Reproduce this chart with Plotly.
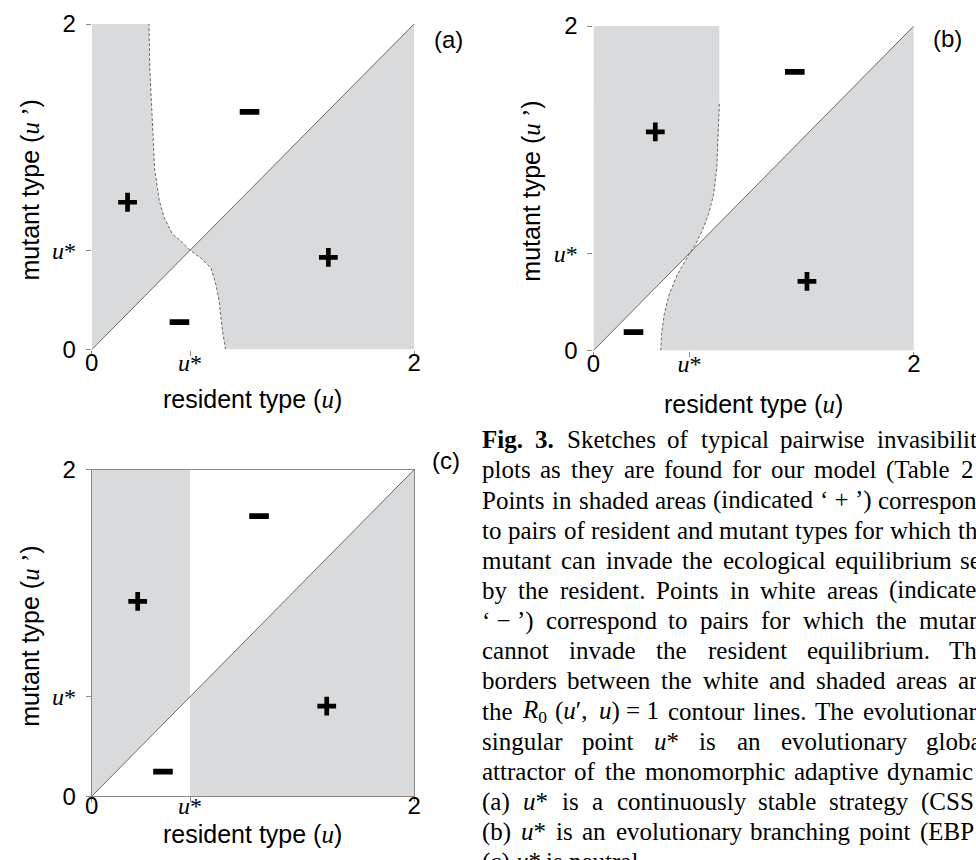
import re
import plotly.graph_objects as go

# ---------------- data (u = resident type, v = mutant type u') ----------------
U_STAR_A = 0.61
U_STAR_B = 0.60
U_STAR_C = 0.61

# panel (a): R0 = 1 contour, branch above the singular point (bottom -> top)
a_upper_u = [0.61, 0.56, 0.50, 0.45, 0.42, 0.39, 0.38, 0.36, 0.355]
a_upper_v = [0.61, 0.66, 0.71, 0.81, 0.91, 1.11, 1.32, 1.73, 2.00]
# panel (a): branch below the singular point (bottom -> top)
a_lower_u = [0.83, 0.81, 0.79, 0.77, 0.74, 0.68, 0.61]
a_lower_v = [0.00, 0.12, 0.30, 0.40, 0.50, 0.56, 0.61]

# panel (b): R0 = 1 contour through the singular point (bottom -> top)
b_curve_u = [0.42, 0.425, 0.441, 0.472, 0.523, 0.60, 0.636, 0.677, 0.718, 0.75, 0.77, 0.78, 0.786, 0.786]
b_curve_v = [0.00, 0.10, 0.22, 0.344, 0.467, 0.60, 0.65, 0.735, 0.84, 0.96, 1.125, 1.33, 1.52, 2.00]
b_line_top = 1.52  # dashed contour drawn up to here

# sign labels
a_plus_u, a_plus_v = [0.222, 1.468], [0.905, 0.566]
a_minus_u, a_minus_v = [0.979, 0.544], [1.46, 0.168]
b_plus_u, b_plus_v = [0.386, 1.333], [1.348, 0.426]
b_minus_u, b_minus_v = [1.257, 0.25], [1.718, 0.113]
c_plus_u, c_plus_v = [0.285, 1.458], [1.194, 0.552]
c_minus_u, c_minus_v = [1.038, 0.442], [1.716, 0.151]

AX_MIN, AX_MAX = 0, 2
panel_labels = ["(a)", "(b)", "(c)"]
x_title = "resident type (<span style='font-family:Liberation Serif'><i>u</i></span>)"
y_title = "mutant type (<span style='font-family:Liberation Serif'><i>u</i> \u2019</span>)"
USTAR_TXT = "<span style='font-family:Liberation Serif'><i>u</i>*</span>"

# caption: full words of each (justified) line, and the part of the last word that is visible
caption_words = [
    ["<b>Fig.</b>", "<b>3.</b>", "Sketches", "of", "typical", "pairwise", "invasibility"],
    ["plots", "as", "they", "are", "found", "for", "our", "model", "(Table", "2)."],
    ["Points", "in", "shaded", "areas", "(indicated", "\u2018 + \u2019)", "correspond"],
    ["to", "pairs", "of", "resident", "and", "mutant", "types", "for", "which", "the"],
    ["mutant", "can", "invade", "the", "ecological", "equilibrium", "set"],
    ["by", "the", "resident.", "Points", "in", "white", "areas", "(indicated"],
    ["\u2018 \u2212 \u2019)", "correspond", "to", "pairs", "for", "which", "the", "mutant"],
    ["cannot", "invade", "the", "resident", "equilibrium.", "The"],
    ["borders", "between", "the", "white", "and", "shaded", "areas", "are"],
    ["the", "<i>R</i><sub>0</sub>", "(<i>u</i>\u2032,", "<i>u</i>) = 1", "contour", "lines.", "The", "evolutionary"],
    ["singular", "point", "<i>u</i>*", "is", "an", "evolutionary", "global"],
    ["attractor", "of", "the", "monomorphic", "adaptive", "dynamics."],
    ["(a)", "<i>u</i>*", "is", "a", "continuously", "stable", "strategy", "(CSS)."],
    ["(b)", "<i>u</i>*", "is", "an", "evolutionary", "branching", "point", "(EBP)."],
    ["(c)", "<i>u</i>*", "is", "neutral."],
]
caption_visible_last = ["invasibilit", "2", "correspon", "th", "se", "(indicate", "mutan", "Th", "ar",
                        "evolutionar", "globa", "dynamic", "(CSS", "(EBP", "neutral."]
caption_justified = [True] * 14 + [False]

# ---------------- styles / geometry ----------------
SHADE = "#d9dadc"
LINE = "#5a5a5a"
W, H = 976, 860
# vertical placement correction (target-picture px -> figure px)
SY, OY = 0.967, 13.0
SANS = "Liberation Sans"
SERIF = "Liberation Serif"


def fx(x):
    return x / W


def fy(y):
    return 1 - (y - OY) / SY / H


def xdom(a, b):
    return [fx(a), fx(b)]


def ydom(top, bottom):
    return [fy(bottom), fy(top)]


fig = go.Figure()


def fill(xs, ys, k):
    fig.add_trace(go.Scatter(x=xs, y=ys, mode="none", fill="toself", fillcolor=SHADE,
                             xaxis=f"x{k}", yaxis=f"y{k}", hoverinfo="skip"))


def line(xs, ys, k, dash="solid", width=0.9):
    fig.add_trace(go.Scatter(x=xs, y=ys, mode="lines", line=dict(color=LINE, width=width, dash=dash),
                             xaxis=f"x{k}", yaxis=f"y{k}", hoverinfo="skip"))


def signs(pu, pv, mu, mv, k):
    fig.add_trace(go.Scatter(x=pu, y=pv, mode="markers", xaxis=f"x{k}", yaxis=f"y{k}",
                             marker=dict(symbol="cross-thin", size=13.4,
                                         line=dict(width=4.7, color="black"))))
    fig.add_trace(go.Scatter(x=mu, y=mv, mode="markers", xaxis=f"x{k}", yaxis=f"y{k}",
                             marker=dict(symbol="line-ew", size=14,
                                         line=dict(width=5.7, color="black"))))


# ---- panel (a) ----
fill([AX_MIN] + a_upper_u + [AX_MIN], [AX_MIN] + a_upper_v + [AX_MAX], "")
fill(a_lower_u + [AX_MAX, AX_MAX], a_lower_v + [AX_MAX, AX_MIN], "")
line([AX_MIN, AX_MAX], [AX_MIN, AX_MAX], "")
line(a_upper_u, a_upper_v, "", dash="3px,2px")
line(a_lower_u, a_lower_v, "", dash="3px,2px")
signs(a_plus_u, a_plus_v, a_minus_u, a_minus_v, "")

# ---- panel (b) ----
b_up_u = [u for u, v in zip(b_curve_u, b_curve_v) if v >= U_STAR_B]
b_up_v = [v for v in b_curve_v if v >= U_STAR_B]
b_lo_u = [u for u, v in zip(b_curve_u, b_curve_v) if v <= U_STAR_B]
b_lo_v = [v for v in b_curve_v if v <= U_STAR_B]
fill([AX_MIN] + b_up_u + [AX_MIN], [AX_MIN] + b_up_v + [AX_MAX], "2")
fill(b_lo_u + [AX_MAX, AX_MAX], b_lo_v + [AX_MAX, AX_MIN], "2")
line([AX_MIN, AX_MAX], [AX_MIN, AX_MAX], "2")
bl_u = [u for u, v in zip(b_curve_u, b_curve_v) if v <= b_line_top]
bl_v = [v for v in b_curve_v if v <= b_line_top]
line(bl_u, bl_v, "2", dash="3px,2px")
signs(b_plus_u, b_plus_v, b_minus_u, b_minus_v, "2")

# ---- panel (c) ----
fill([AX_MIN, U_STAR_C, U_STAR_C, AX_MIN], [AX_MIN, U_STAR_C, AX_MAX, AX_MAX], "3")
fill([U_STAR_C, U_STAR_C, AX_MAX, AX_MAX], [AX_MIN, U_STAR_C, AX_MAX, AX_MIN], "3")
line([AX_MIN, AX_MAX], [AX_MIN, AX_MAX], "3")
signs(c_plus_u, c_plus_v, c_minus_u, c_minus_v, "3")


def axis(domain, anchor, ustar, frame=False):
    return dict(domain=domain, anchor=anchor, range=[AX_MIN, AX_MAX], tickmode="array",
                tickvals=[AX_MIN, ustar, AX_MAX], ticktext=["0", USTAR_TXT, "2"],
                ticks="outside", ticklen=5, tickwidth=1, tickcolor="#8a8a8a",
                showgrid=False, zeroline=False, showline=frame, mirror=frame,
                linecolor="#8a8a8a", linewidth=1,
                tickfont=dict(family=SANS, size=24, color="black"))


panels = [
    ("", xdom(86, 413), ydom(23, 348), U_STAR_A, False),
    ("2", xdom(595, 920), ydom(25, 349), U_STAR_B, False),
    ("3", xdom(86, 413), ydom(468, 794), U_STAR_C, True),
]
panel_px = [((86, 413), (23, 348)), ((595, 920), (25, 349)), ((86, 413), (468, 794))]
title_drop = [49, 53, 38]
x_standoff = [-13, -13, -17]
layout_axes = {}
annotations = []
for (k, xd, yd, us, frame), ((x0, x1), (y0, y1)), td, xs in zip(panels, panel_px, title_drop, x_standoff):
    xa = axis(xd, f"y{k}", us, frame)
    ya = axis(yd, f"x{k}", us, frame)
    xa["ticklabelstandoff"] = xs
    ya["ticklabelstandoff"] = 5
    layout_axes[f"xaxis{k}"] = xa
    layout_axes[f"yaxis{k}"] = ya
    annotations.append(dict(text=x_title, xref="paper", yref="paper", x=fx((x0 + x1) / 2), y=fy(y1 + td),
                            xanchor="center", yanchor="middle", showarrow=False,
                            font=dict(family=SANS, size=25, color="black")))
    annotations.append(dict(text=y_title, xref="paper", yref="paper", x=fx(x0 - 63), y=fy((y0 + y1) / 2 + 3),
                            xanchor="center", yanchor="middle", textangle=-90, showarrow=False,
                            font=dict(family=SANS, size=25, color="black")))

label_pos = [(448, 38), (954, 37), (445, 459)]
for txt, (lx, ly) in zip(panel_labels, label_pos):
    annotations.append(dict(text=txt, xref="paper", yref="paper", x=fx(lx), y=fy(ly),
                            xanchor="center", yanchor="middle", showarrow=False,
                            font=dict(family=SANS, size=24, color="black")))

# ---- caption: Times-metric word widths (em/1000) for justification ----
REG = {' ': 250, '\u00a0': 250, 'a': 444, 'b': 500, 'c': 444, 'd': 500, 'e': 444, 'f': 333, 'g': 500,
       'h': 500, 'i': 278, 'j': 278, 'k': 500, 'l': 278, 'm': 778, 'n': 500, 'o': 500, 'p': 500,
       'q': 500, 'r': 333, 's': 389, 't': 278, 'u': 500, 'v': 500, 'w': 722, 'x': 500, 'y': 500,
       'z': 444, 'A': 722, 'B': 667, 'C': 667, 'D': 722, 'E': 611, 'F': 556, 'G': 722, 'H': 722,
       'I': 333, 'J': 389, 'K': 722, 'L': 611, 'M': 889, 'N': 722, 'O': 722, 'P': 556, 'Q': 722,
       'R': 667, 'S': 556, 'T': 611, 'U': 722, 'V': 722, 'W': 944, 'X': 722, 'Y': 722, 'Z': 611,
       '.': 250, ',': 250, '(': 333, ')': 333, '\u2018': 333, '\u2019': 333, '\u2032': 300,
       '*': 500, '=': 564, '+': 564, '\u2212': 564, '-': 333}
BOLD = {'F': 611, 'i': 278, 'g': 500, '.': 250}
ITAL = {'u': 500, 'R': 611, '*': 500}


def em_width(html):
    total, bold, ital, sub = 0.0, False, False, False
    for part in re.split(r"(<[^>]+>)", html):
        if part.startswith("<"):
            tag = part.strip("<>/").lower()
            on = not part.startswith("</")
            if tag == "b":
                bold = on
            elif tag == "i":
                ital = on
            elif tag == "sub":
                sub = on
            continue
        for ch in part:
            w = REG.get(ch, 500)
            if bold:
                w = BOLD.get(ch, w)
            if ital:
                w = ITAL.get(ch, w)
            total += w * (0.7 if sub else 1.0)
    return total / 1000.0


CAP_FONT = 25.0
CAP_X0, CAP_COL = 481.0, 513.0
CAP_Y0, CAP_DY = 440.0, 30.1
for i, words in enumerate(caption_words):
    widths = [em_width(w) * CAP_FONT for w in words]
    gaps = len(words) - 1
    if caption_justified[i]:
        gap = (CAP_COL - sum(widths)) / gaps
    else:
        gap = REG[' '] / 1000.0 * CAP_FONT
    shown = words[:-1] + [caption_visible_last[i]]
    xcur = CAP_X0
    for w_txt, w_px in zip(shown, widths):
        annotations.append(dict(text=w_txt, xref="paper", yref="paper", x=fx(xcur), y=fy(CAP_Y0 + i * CAP_DY - 2),
                                xanchor="left", yanchor="middle", showarrow=False, borderpad=0,
                                font=dict(family=SERIF, size=CAP_FONT, color="black")))
        xcur += w_px + gap

fig.update_layout(width=W, height=H, margin=dict(l=0, r=0, t=0, b=0), showlegend=False,
                  paper_bgcolor="white", plot_bgcolor="white", annotations=annotations, **layout_axes)

fig.write_html("out.html")
